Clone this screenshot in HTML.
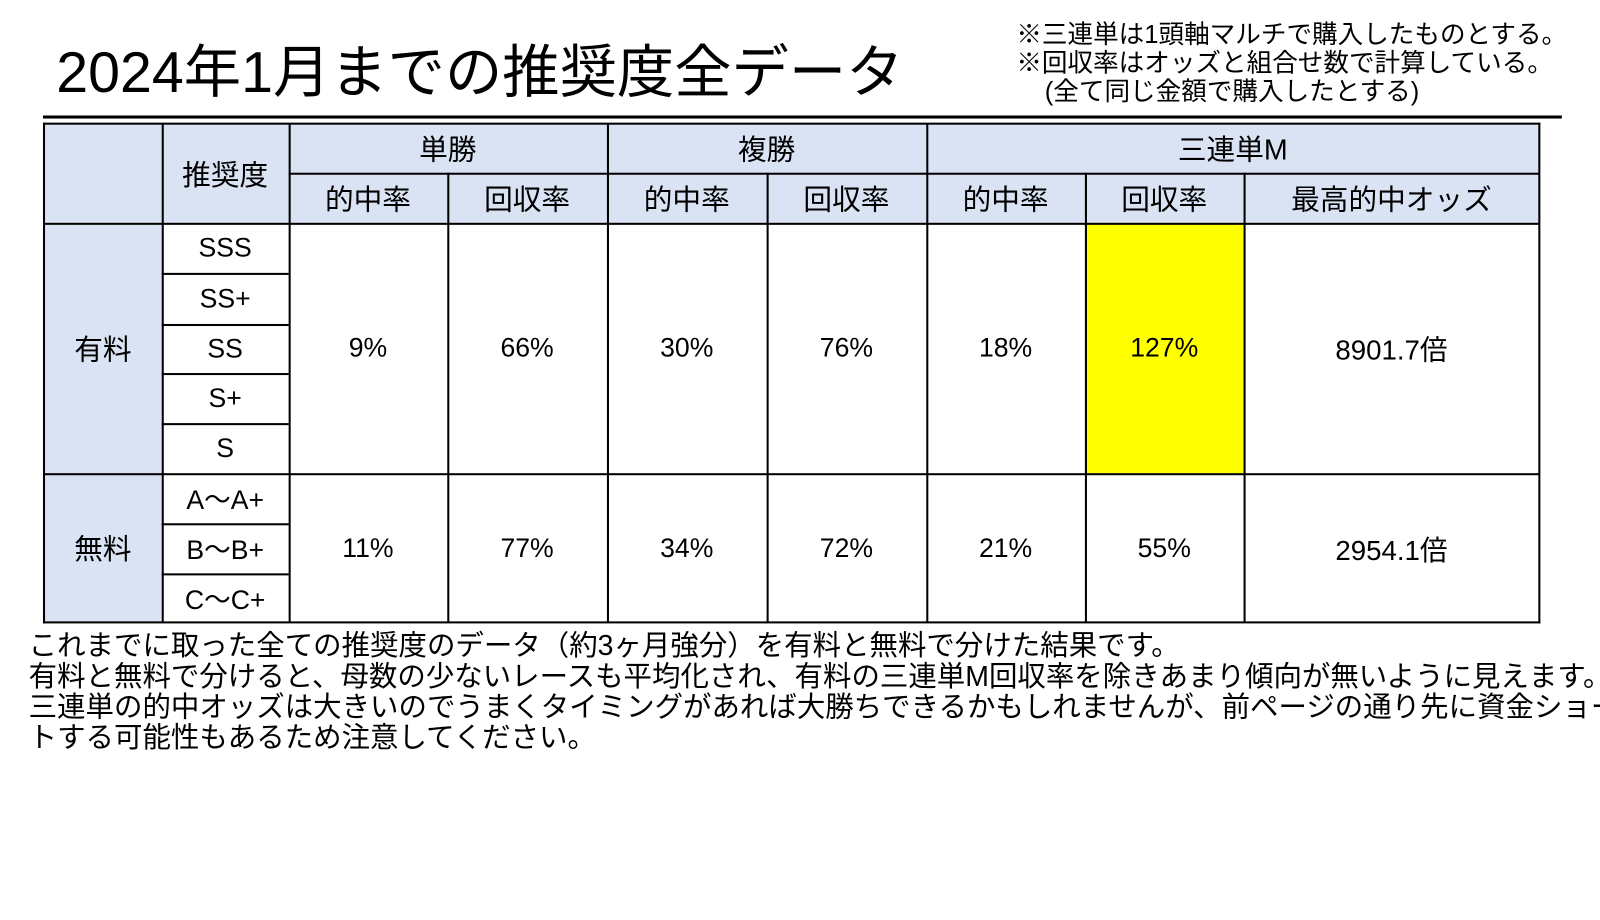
<!DOCTYPE html>
<html><head><meta charset="utf-8"><style>
body{margin:0;width:1600px;height:900px;background:#fff;position:relative;overflow:hidden;font-family:"Liberation Sans","Noto Sans CJK JP",sans-serif;color:#000}
#wrap{position:absolute;left:0;top:0;width:1600px;height:900px;transform:scale(1.0235,1.022);transform-origin:0 0}
.a{position:absolute}
.c{position:absolute;box-sizing:border-box;display:flex;align-items:center;justify-content:center;font-size:28px}
.n{font-size:26px}
.h{background:#dae3f3}
.y{background:#ffff00}
.l{background:#000;position:absolute}
.t{position:absolute;left:28px;font-size:27.8px;white-space:nowrap;line-height:30px}
</style></head><body><div id="wrap">
<div class="a" style="left:55px;top:38px;font-size:56px;line-height:66px;white-space:nowrap">2024年1月までの推奨度全データ</div>
<div class="a" style="left:993px;top:20px;font-size:25px;line-height:28px;white-space:nowrap">※三連単は1頭軸マルチで購入したものとする。<br>※回収率はオッズと組合せ数で計算している。<br>&nbsp;&nbsp;&nbsp;&nbsp;(全て同じ金額で購入したとする)</div>
<div class="l" style="left:42px;top:113px;width:1484px;height:3px"></div>
<div>
<div class="c h" style="left:43px;top:121px;width:1461px;height:97px"></div>
<div class="c h" style="left:43px;top:218px;width:115px;height:391px"></div>
<div class="c y" style="left:1060px;top:218px;width:155px;height:245px"></div>
<div class="c" style="left:158px;top:121px;width:124px;height:97px">推奨度</div>
<div class="c" style="left:282px;top:121px;width:311px;height:48px">単勝</div>
<div class="c" style="left:593px;top:121px;width:312px;height:48px">複勝</div>
<div class="c" style="left:905px;top:121px;width:599px;height:48px">三連単M</div>
<div class="c" style="left:282px;top:169px;width:155px;height:49px">的中率</div>
<div class="c" style="left:437px;top:169px;width:156px;height:49px">回収率</div>
<div class="c" style="left:593px;top:169px;width:156px;height:49px">的中率</div>
<div class="c" style="left:749px;top:169px;width:156px;height:49px">回収率</div>
<div class="c" style="left:905px;top:169px;width:155px;height:49px">的中率</div>
<div class="c" style="left:1060px;top:169px;width:155px;height:49px">回収率</div>
<div class="c" style="left:1215px;top:169px;width:289px;height:49px">最高的中オッズ</div>
<div class="c" style="left:43px;top:218px;width:115px;height:245px">有料</div>
<div class="c" style="left:43px;top:463px;width:115px;height:146px">無料</div>
<div class="c n" style="left:158px;top:218px;width:124px;height:49px">SSS</div>
<div class="c n" style="left:158px;top:267px;width:124px;height:50px">SS+</div>
<div class="c n" style="left:158px;top:317px;width:124px;height:48px">SS</div>
<div class="c n" style="left:158px;top:365px;width:124px;height:49px">S+</div>
<div class="c n" style="left:158px;top:414px;width:124px;height:49px">S</div>
<div class="c n" style="left:158px;top:463px;width:124px;height:49px">A〜A+</div>
<div class="c n" style="left:158px;top:512px;width:124px;height:49px">B〜B+</div>
<div class="c n" style="left:158px;top:561px;width:124px;height:48px">C〜C+</div>
<div class="c n" style="left:282px;top:218px;width:155px;height:245px">9%</div>
<div class="c n" style="left:437px;top:218px;width:156px;height:245px">66%</div>
<div class="c n" style="left:593px;top:218px;width:156px;height:245px">30%</div>
<div class="c n" style="left:749px;top:218px;width:156px;height:245px">76%</div>
<div class="c n" style="left:905px;top:218px;width:155px;height:245px">18%</div>
<div class="c n" style="left:1060px;top:218px;width:155px;height:245px">127%</div>
<div class="c" style="left:1215px;top:218px;width:289px;height:245px;font-size:27px">8901.7倍</div>
<div class="c n" style="left:282px;top:463px;width:155px;height:146px">11%</div>
<div class="c n" style="left:437px;top:463px;width:156px;height:146px">77%</div>
<div class="c n" style="left:593px;top:463px;width:156px;height:146px">34%</div>
<div class="c n" style="left:749px;top:463px;width:156px;height:146px">72%</div>
<div class="c n" style="left:905px;top:463px;width:155px;height:146px">21%</div>
<div class="c n" style="left:1060px;top:463px;width:155px;height:146px">55%</div>
<div class="c" style="left:1215px;top:463px;width:289px;height:146px;font-size:27px">2954.1倍</div>
<div class="l" style="left:42px;top:120px;width:1463px;height:2px"></div>
<div class="l" style="left:42px;top:608px;width:1463px;height:2px"></div>
<div class="l" style="left:42px;top:120px;width:2px;height:490px"></div>
<div class="l" style="left:1503px;top:120px;width:2px;height:490px"></div>
<div class="l" style="left:158px;top:121px;width:1.5px;height:488px"></div>
<div class="l" style="left:282px;top:121px;width:1.5px;height:488px"></div>
<div class="l" style="left:437px;top:169px;width:1.5px;height:440px"></div>
<div class="l" style="left:593px;top:121px;width:1.5px;height:488px"></div>
<div class="l" style="left:749px;top:169px;width:1.5px;height:440px"></div>
<div class="l" style="left:905px;top:121px;width:1.5px;height:488px"></div>
<div class="l" style="left:1060px;top:169px;width:1.5px;height:440px"></div>
<div class="l" style="left:1215px;top:169px;width:1.5px;height:440px"></div>
<div class="l" style="left:282px;top:169px;width:1222px;height:1.5px"></div>
<div class="l" style="left:43px;top:218px;width:1461px;height:1.5px"></div>
<div class="l" style="left:43px;top:463px;width:1461px;height:1.5px"></div>
<div class="l" style="left:158px;top:267px;width:124px;height:1.5px"></div>
<div class="l" style="left:158px;top:317px;width:124px;height:1.5px"></div>
<div class="l" style="left:158px;top:365px;width:124px;height:1.5px"></div>
<div class="l" style="left:158px;top:414px;width:124px;height:1.5px"></div>
<div class="l" style="left:158px;top:512px;width:124px;height:1.5px"></div>
<div class="l" style="left:158px;top:561px;width:124px;height:1.5px"></div>
</div>
<div>
<div class="t" style="top:617px">これまでに取った全ての推奨度のデータ（約3ヶ月強分）を有料と無料で分けた結果です。</div>
<div class="t" style="top:647px">有料と無料で分けると、母数の少ないレースも平均化され、有料の三連単M回収率を除きあまり傾向が無いように見えます。</div>
<div class="t" style="top:677px">三連単の的中オッズは大きいのでうまくタイミングがあれば大勝ちできるかもしれませんが、前ページの通り先に資金ショー</div>
<div class="t" style="top:707px">トする可能性もあるため注意してください。</div>
</div>
</div></body></html>
